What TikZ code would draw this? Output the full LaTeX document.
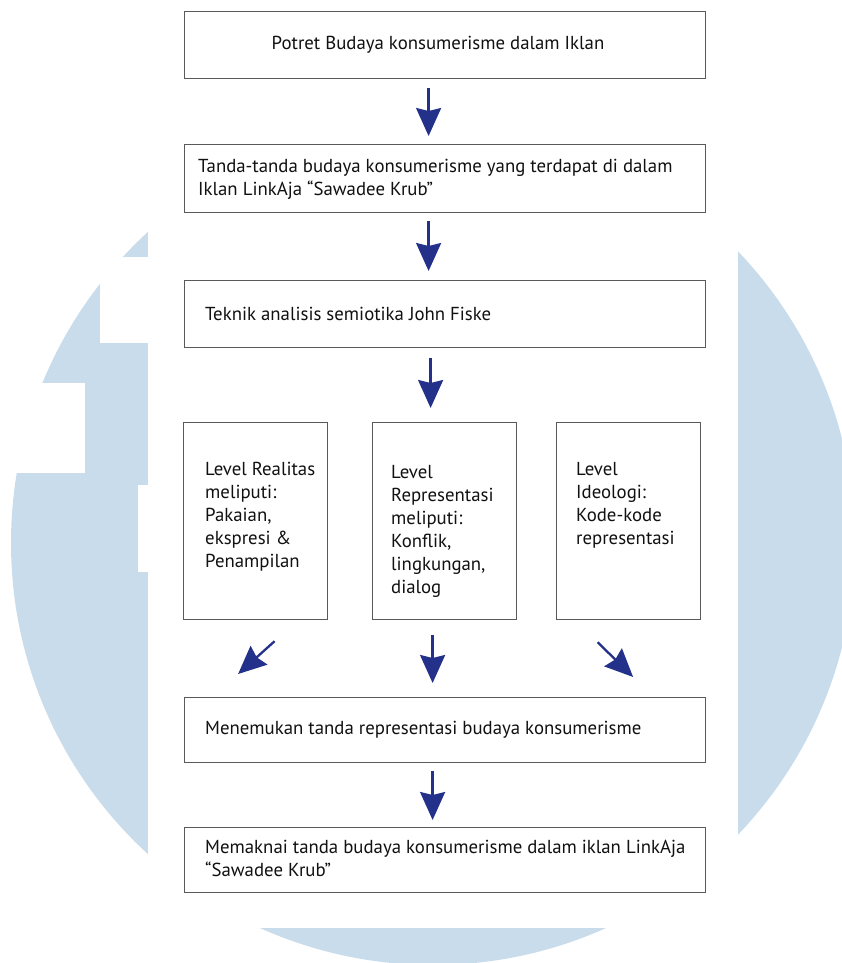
\documentclass[tikz,border=0pt]{standalone}
\usepackage{fontspec}
\setmainfont{PT Sans}
\usetikzlibrary{arrows.meta}
\definecolor{bgblue}{HTML}{C9DCEC}
\definecolor{navy}{HTML}{24318A}
\definecolor{boxline}{HTML}{5A5A5A}
\definecolor{txt}{HTML}{111111}
\begin{document}
\begin{tikzpicture}[x=1pt,y=-1pt,
  box/.style={draw=boxline, line width=1.2pt, fill=white, rectangle, inner sep=0pt, anchor=north west},
  wide/.style={box, minimum width=521pt, minimum height=67pt},
  tall/.style={box, minimum width=144pt, minimum height=197pt},
  lbl/.style={font=\fontsize{18.8}{23}\selectfont, text=txt, align=left, inner sep=0pt},
  arr/.style={draw=navy, line width=2.3pt, -{Stealth[length=28pt,width=25pt,inset=3pt]}}
]
\useasboundingbox (0,0) rectangle (841,963);
% watermark background
\fill[bgblue] (433,543) circle[radius=422pt];
\fill[white] (100,257) rectangle (148,343);
\fill[white] (0,383) rectangle (85,473);
\fill[white] (138,485) rectangle (148,572);
\fill[white] (148,0) rectangle (738,928);

% boxes
\node[wide] (b1) at (184,11) {};
\node[lbl, anchor=center] (t1) at (438,45) {Potret Budaya konsumerisme dalam Iklan};

\node[wide, minimum height=68pt] (b2) at (184,144) {};
\node[lbl, anchor=west] (t2) at ([xshift=14pt,yshift=-1pt]b2.west) {Tanda-tanda budaya konsumerisme yang terdapat di dalam\\Iklan LinkAja “Sawadee Krub”};

\node[wide] (b3) at (184,280) {};
\node[lbl, anchor=west] (t3) at ([xshift=21pt]b3.west) {Teknik analisis semiotika John Fiske};

\node[tall] (bL) at (183,422) {};
\node[lbl, anchor=north west] (tL) at ([xshift=22pt,yshift=-40pt]bL.north west) {Level Realitas\\meliputi:\\Pakaian,\\ekspresi \&\\Penampilan};

\node[tall] (bM) at (372,422) {};
\node[lbl, anchor=north west] (tM) at ([xshift=19pt,yshift=-43pt]bM.north west) {Level\\Representasi\\meliputi:\\Konflik,\\lingkungan,\\dialog};

\node[tall] (bR) at (556,422) {};
\node[lbl, anchor=north west] (tR) at ([xshift=20pt,yshift=-40pt]bR.north west) {Level\\Ideologi:\\Kode-kode\\representasi};

\node[wide, minimum height=65pt] (b5) at (184,697) {};
\node[lbl, anchor=west] (t5) at ([xshift=21pt]b5.west) {Menemukan tanda representasi budaya konsumerisme};

\node[wide, minimum height=65pt] (b6) at (184,827) {};
\node[lbl, anchor=west] (t6) at ([xshift=21pt,yshift=2pt]b6.west) {Memaknai tanda budaya konsumerisme dalam iklan LinkAja\\“Sawadee Krub”};

% arrows
\draw[arr] ([xshift=-16.5pt,yshift=-9pt]b1.south) -- ([xshift=-16.5pt,yshift=8pt]b2.north);
\draw[arr] ([xshift=-16.5pt,yshift=-8pt]b2.south) -- ([xshift=-16.5pt,yshift=9pt]b3.north);
\draw[arr] ([xshift=-14.5pt,yshift=-10pt]b3.south) -- ([xshift=-14pt,yshift=14pt]bM.north);
\draw[arr] ([xshift=19pt,yshift=-21pt]bL.south) -- ([xshift=-207pt,yshift=23pt]b5.north);
\draw[arr] ([xshift=-12pt,yshift=-15pt]bM.south) -- ([xshift=-12.5pt,yshift=14pt]b5.north);
\draw[arr] ([xshift=-31pt,yshift=-22pt]bR.south) -- ([xshift=188pt,yshift=20pt]b5.north);
\draw[arr] ([xshift=-12.5pt,yshift=-8pt]b5.south) -- ([xshift=-12.5pt,yshift=7pt]b6.north);
\end{tikzpicture}
\end{document}
